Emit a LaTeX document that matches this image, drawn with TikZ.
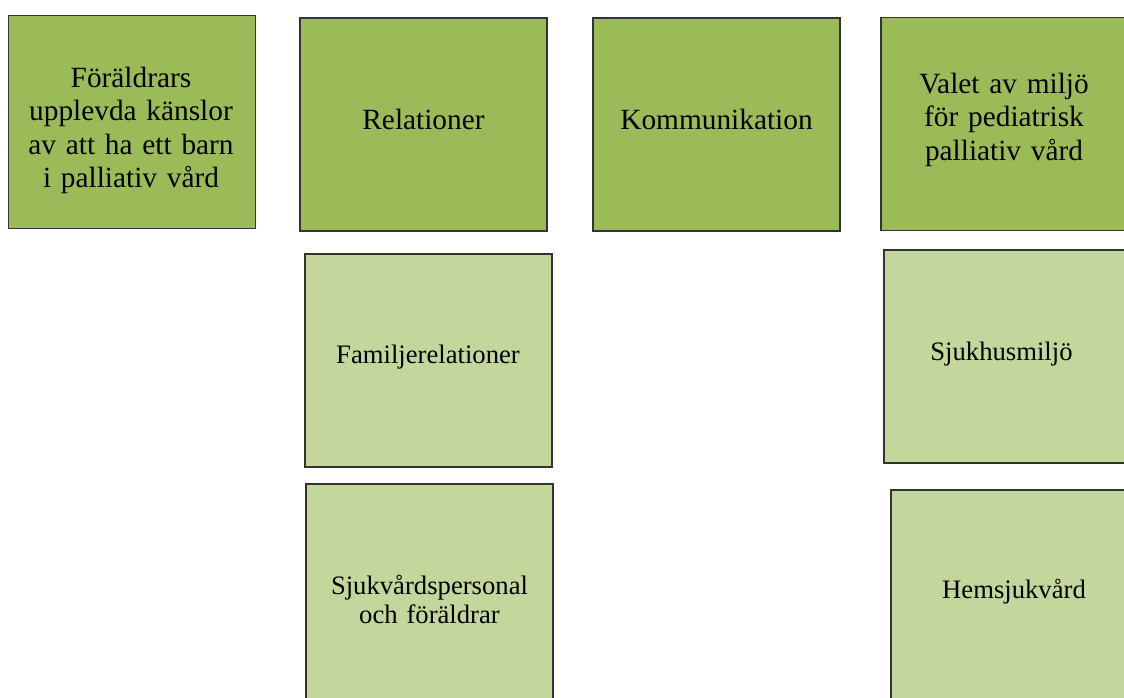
\documentclass[tikz,border=0pt]{standalone}
\usepackage{fontspec}
\setmainfont{Liberation Serif}
\definecolor{dk}{HTML}{9BBB59}
\definecolor{lt}{HTML}{C3D69B}
\begin{document}
\begin{tikzpicture}[x=0.75pt,y=-0.75pt,
  box/.style={draw=black!80, line width=0.9pt, minimum width=185.25pt, minimum height=159.75pt, inner sep=0pt},
  topbox/.style={box, fill=dk},
  subbox/.style={box, fill=lt},
  toptext/.style={anchor=base, inner sep=0pt, align=center, text width=180pt, font=\fontsize{22}{25.2}\selectfont},
  subtext/.style={anchor=base, inner sep=0pt, align=center, text width=180pt, font=\fontsize{20}{21.8}\selectfont}]
\useasboundingbox (0,0) rectangle (1124,697);
\clip (0,0) rectangle (1124,697);
% main themes
\node[topbox] (b1) at (132,122) {};
\node[topbox] (b2) at (423.5,124.5) {};
\node[topbox] (b3) at (716.5,124.5) {};
\node[topbox] (b4) at (1004.5,124) {};
% sub-themes
\node[subbox] (l1) at (428.5,360.5) {};
\node[subbox, minimum height=169.5pt] (l2) at (429.5,597) {};
\node[subbox] (l3) at (1007.5,356.5) {};
\node[subbox, minimum height=165pt] (l4) at (1014.5,600) {};
% texts
\node[toptext] (t1) at (131,87) {Föräldrars\\upplevda känslor\\av att ha ett barn\\i palliativ vård};
\node[toptext] (t2) at (423.5,129) {Relationer};
\node[toptext] (t3) at (716.5,129) {Kommunikation};
\node[toptext] (t4) at (1004,93) {Valet av miljö\\för pediatrisk\\palliativ vård};
\node[subtext] (s1) at (428,363) {Familjerelationer};
\node[subtext] (s2) at (429.5,594) {Sjukvårdspersonal\\och föräldrar};
\node[subtext] (s3) at (1001.5,360) {Sjukhusmiljö};
\node[subtext] (s4) at (1014,598) {Hemsjukvård};
\end{tikzpicture}
\end{document}
